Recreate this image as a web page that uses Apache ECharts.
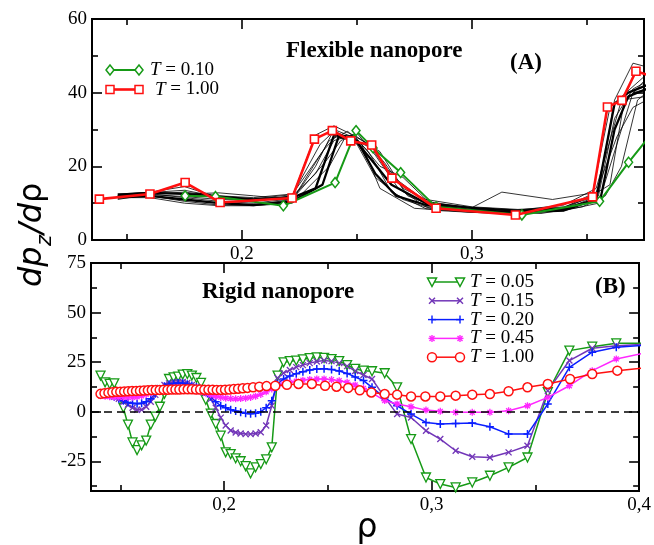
<!DOCTYPE html>
<html>
<head>
<meta charset="utf-8">
<script src="https://cdn.jsdelivr.net/npm/echarts@6/dist/echarts.min.js"></script>
<style>
  html, body { margin: 0; padding: 0; background: #fff; }
  #chart { width: 654px; height: 545px; }
</style>
</head>
<body>
<div id="chart"></div>
<script>
// ---------- Panel A: flexible nanopore, dp_z/dρ vs ρ ----------
const flexT010 = [[0.1753,12.0],[0.1885,11.8],[0.2180,9.3],[0.2405,15.6],[0.2496,29.7],[0.2570,25.0],
  [0.2690,18.3],[0.2844,9.0],[0.3217,6.8],[0.3555,10.5],[0.3681,21.1],[0.3780,28.8]];
const flexT100 = [[0.1380,11.1],[0.1600,12.5],[0.1753,15.6],[0.1905,10.2],[0.2218,11.4],[0.2315,27.4],
  [0.2393,29.7],[0.2473,26.9],[0.2564,25.8],[0.2652,16.8],[0.2844,8.6],[0.3189,6.8],[0.3524,11.7],
  [0.3589,36.1],[0.3652,37.9],[0.3713,45.8],[0.3780,44.5]];
// intermediate temperatures (black curves); first two drawn thick
const flexRuns = [
  [[0.146,12.3],[0.160,12.8],[0.175,12.5],[0.190,11.8],[0.205,11.0],[0.222,11.5],[0.232,14.0],[0.240,28.5],[0.248,28.0],[0.256,22.0],[0.265,15.0],[0.280,10.0],[0.300,8.7],[0.320,8.0],[0.340,8.5],[0.354,11.0],[0.362,37.0],[0.368,40.0],[0.376,42.0]],
  [[0.146,11.5],[0.160,12.0],[0.175,11.0],[0.190,10.0],[0.205,9.5],[0.222,10.5],[0.235,15.0],[0.242,28.0],[0.250,27.0],[0.258,18.0],[0.267,12.0],[0.280,9.5],[0.300,8.2],[0.320,7.5],[0.340,8.0],[0.356,11.5],[0.362,30.0],[0.368,39.0],[0.376,41.0]],
  [[0.146,12.0],[0.160,13.0],[0.175,14.5],[0.190,11.5],[0.205,10.5],[0.222,12.0],[0.232,28.5],[0.240,31.0],[0.250,28.0],[0.260,24.0],[0.270,14.0],[0.285,9.5],[0.300,8.8],[0.313,13.0],[0.335,11.0],[0.355,13.0],[0.362,38.0],[0.370,48.0],[0.376,47.0]],
  [[0.146,11.0],[0.160,12.5],[0.175,13.0],[0.190,12.0],[0.205,11.5],[0.222,12.5],[0.235,24.0],[0.242,29.0],[0.250,26.0],[0.258,17.0],[0.270,11.0],[0.285,8.0],[0.300,7.5],[0.320,7.0],[0.340,8.5],[0.352,12.0],[0.360,15.0],[0.366,37.0],[0.376,44.0]],
  [[0.146,12.0],[0.160,12.0],[0.175,10.5],[0.190,9.5],[0.205,9.5],[0.222,11.0],[0.238,27.0],[0.246,29.5],[0.255,24.0],[0.265,13.0],[0.280,8.5],[0.300,7.5],[0.320,7.3],[0.340,8.0],[0.355,10.0],[0.363,26.0],[0.370,40.0],[0.376,41.0]],
  [[0.150,12.5],[0.160,13.0],[0.175,12.5],[0.190,12.8],[0.205,12.0],[0.222,11.0],[0.232,20.0],[0.240,30.0],[0.250,27.5],[0.260,20.0],[0.270,17.0],[0.280,11.0],[0.300,9.0],[0.320,8.3],[0.340,9.0],[0.352,11.5],[0.360,36.0],[0.367,40.0],[0.376,45.0]],
  [[0.146,11.5],[0.160,11.5],[0.175,10.0],[0.190,9.3],[0.205,9.3],[0.222,10.0],[0.238,20.0],[0.245,28.0],[0.252,26.0],[0.260,14.0],[0.275,8.6],[0.290,8.0],[0.310,7.6],[0.330,7.2],[0.348,9.0],[0.358,12.0],[0.365,20.0],[0.372,38.0],[0.376,40.0]],
  [[0.146,12.0],[0.160,12.3],[0.175,11.8],[0.190,11.0],[0.205,10.8],[0.222,12.0],[0.232,18.0],[0.240,27.0],[0.248,28.5],[0.255,26.0],[0.262,21.0],[0.272,12.0],[0.285,8.8],[0.300,8.2],[0.320,8.1],[0.340,9.5],[0.354,14.0],[0.360,27.0],[0.365,38.0],[0.376,39.0]],
  [[0.146,11.8],[0.160,12.6],[0.175,11.5],[0.190,10.5],[0.205,10.0],[0.222,11.2],[0.236,21.0],[0.243,27.0],[0.250,29.0],[0.258,23.0],[0.268,14.0],[0.280,9.0],[0.300,7.8],[0.320,7.4],[0.340,8.3],[0.355,12.0],[0.362,33.0],[0.370,41.0],[0.376,43.0]],
  [[0.146,12.5],[0.160,12.9],[0.175,13.5],[0.190,11.7],[0.205,11.2],[0.222,12.3],[0.234,26.0],[0.240,29.5],[0.248,27.5],[0.256,25.0],[0.266,17.0],[0.280,10.5],[0.300,8.6],[0.320,7.9],[0.340,8.8],[0.354,13.0],[0.363,28.0],[0.370,36.0],[0.376,38.0]]
];

// ---------- Panel B: rigid nanopore ----------
const rhoRigid = [
  0.1405,0.1427,0.1449,0.1471,0.1493,0.1515,0.1537,0.1559,0.1581,0.1603,
  0.1625,0.1647,0.1669,0.1691,0.1713,0.1735,0.1757,0.1779,0.1801,0.1823,
  0.1845,0.1867,0.1889,0.1912,0.1936,0.1960,0.1984,0.2008,0.2032,0.2056,
  0.2080,0.2104,0.2128,0.2152,0.2177,0.2203,0.2230,0.2258,0.2287,0.2317,
  0.2348,0.2380,0.2413,0.2447,0.2482,0.2518,0.2555,0.2593,0.2632,0.2672,
  0.2713,0.2774,0.2834,0.2901,0.2973,0.3042,0.3116,0.3196,0.3281,0.3371,
  0.3462,0.3560,0.3664,0.3774,0.3890,0.4020];
const rigidT005 = [
  18.2,14.8,14.0,14.3,8.0,2.0,-6.5,-15.5,-19.4,-17.0,
  -14.6,-6.5,-2.5,2.5,9.0,16.5,17.3,17.7,18.7,19.0,
  18.2,17.0,14.5,6.0,-1.0,-6.2,-12.1,-20.5,-21.4,-23.5,
  -25.0,-27.5,-31.1,-28.1,-26.4,-24.0,-18.0,18.2,24.9,25.5,
  25.8,26.4,27.0,27.4,27.1,26.5,25.5,23.5,21.6,20.7,
  20.4,19.4,12.3,-13.8,-33.2,-36.5,-38.2,-35.7,-32.3,-28.1,
  -23.1,9.8,30.8,32.8,34.5,34.5];
const rigidT015 = [
  9.0,8.5,8.0,7.5,6.5,5.0,3.5,2.0,1.0,1.0,
  2.5,5.0,8.5,12.0,13.5,14.3,14.8,15.0,15.0,14.5,
  13.5,12.5,11.5,9.5,6.5,2.0,-3.0,-7.0,-9.5,-10.5,
  -11.0,-11.3,-11.3,-11.0,-10.4,-7.0,3.0,17.0,19.5,21.0,
  22.5,23.5,24.5,25.3,25.8,25.5,24.5,23.0,20.5,18.5,
  16.5,7.2,-1.2,-2.9,-9.6,-13.8,-19.7,-22.7,-23.1,-20.5,
  -17.2,10.6,25.8,32.0,33.3,34.0];
const rigidT020 = [
  9.0,8.8,8.2,7.5,6.5,5.5,4.7,4.2,4.0,4.2,
  5.0,6.5,9.0,11.5,12.8,13.8,14.2,14.5,14.3,13.8,
  13.2,12.5,11.5,10.0,7.5,5.0,3.0,2.0,1.0,0.3,
  -0.3,-0.8,-1.0,-0.8,0.0,2.0,5.5,14.0,16.5,18.0,
  19.2,20.2,21.0,21.5,21.6,21.3,20.5,19.3,17.5,15.7,
  12.3,7.0,3.0,-1.2,-5.4,-6.2,-5.9,-5.7,-7.6,-11.3,
  -11.3,3.9,22.4,30.0,32.5,33.5];
const rigidT045 = [
  8.0,7.8,7.6,7.4,7.3,7.2,7.2,7.3,7.5,8.0,
  8.7,9.5,10.3,11.0,11.5,11.8,12.0,12.0,11.8,11.5,
  11.0,10.5,10.0,9.3,8.5,7.8,7.2,6.8,6.6,6.5,
  6.6,6.8,7.2,7.8,8.7,10.0,11.5,13.0,14.0,14.8,
  15.4,15.9,16.3,16.5,16.5,16.2,15.6,14.8,13.5,11.8,
  9.5,5.6,3.9,2.5,0.8,0.2,-0.3,-0.3,-0.3,0.5,
  3.0,7.2,13.1,20.7,26.6,29.5];
const rhoRigidT100 = [
  0.1405,0.1424,0.1443,0.1462,0.1481,0.1500,0.1519,0.1538,0.1557,0.1576,
  0.1595,0.1614,0.1633,0.1652,0.1671,0.1690,0.1709,0.1728,0.1747,0.1766,
  0.1785,0.1805,0.1825,0.1845,0.1865,0.1885,0.1905,0.1925,0.1945,0.1965,
  0.1985,0.2005,0.2026,0.2047,0.2068,0.2090,0.2113,0.2140,0.2170,0.2205,
  0.2247,0.2303,0.2359,0.2423,0.2487,0.2542,0.2598,0.2654,0.2710,0.2774,
  0.2834,0.2901,0.2970,0.3042,0.3116,0.3196,0.3281,0.3371,0.3462,0.3560,
  0.3667,0.3774,0.3895,0.4020];
const rigidT100 = [
  9.0,9.3,9.6,9.8,10.0,10.1,10.2,10.3,10.4,10.5,
  10.6,10.7,10.8,10.9,10.9,11.0,11.1,11.1,11.2,11.2,
  11.2,11.3,11.3,11.3,11.2,11.2,11.1,11.1,11.1,11.0,
  11.0,11.1,11.2,11.4,11.6,11.8,12.0,12.3,12.6,12.9,
  13.1,13.6,14.0,14.0,13.1,12.6,12.0,10.8,9.7,8.9,
  8.6,7.7,7.7,7.7,8.1,8.6,8.9,10.3,12.3,14.0,
  16.5,19.0,20.7,22.0];

// ---------- axes ----------
const xTicksA = { major: [0.2, 0.3], minor: [0.15, 0.25, 0.35] };
const yTicksA = { major: [0, 20, 40, 60], minor: [10, 30, 50] };
const xTicksB = { major: [0.2, 0.3, 0.4], minor: [0.15, 0.25, 0.35] };
const yTicksB = { major: [-25, 0, 25, 50, 75], minor: [-37.5, -12.5, 12.5, 37.5, 62.5] };

const SERIF = '"Liberation Serif", "Times New Roman", serif';
const GREEN = '#169a16', RED = '#ff1010', PURPLE = '#7236b8', BLUE = '#0a1eff', MAGENTA = '#ff28ff';

const commaFmt = v => (+v).toFixed(1).replace('.', ',');

function axis(kind, grid, pos, min, max, ticks, len, labels) {
  return {
    type: 'value', gridIndex: grid, position: pos, min: min, max: max,
    axisLine: { show: true, onZero: false, lineStyle: { color: '#000', width: 2 } },
    axisTick: { show: true, inside: true, length: len, customValues: ticks,
                lineStyle: { color: '#000', width: 1.6 } },
    axisLabel: labels ? { show: true, customValues: labels, color: '#000',
                fontFamily: SERIF, fontSize: 19, margin: 5,
                formatter: kind === 'x' ? commaFmt : (v => String(v)) }
              : { show: false },
    splitLine: { show: false }
  };
}
function sideSet(kind, grid, sides, min, max, t) {
  return [
    axis(kind, grid, sides[0], min, max, t.major, 10, t.major),
    axis(kind, grid, sides[0], min, max, t.minor, 6, null),
    axis(kind, grid, sides[1], min, max, t.major, 10, null),
    axis(kind, grid, sides[1], min, max, t.minor, 6, null)
  ];
}

const xAxes = [].concat(
  sideSet('x', 0, ['bottom', 'top'], 0.1348, 0.3748, xTicksA),
  sideSet('x', 1, ['bottom', 'top'], 0.1359, 0.4, xTicksB));
const yAxes = [].concat(
  sideSet('y', 0, ['left', 'right'], 0, 60, yTicksA),
  sideSet('y', 1, ['left', 'right'], -40, 75, yTicksB));

// ---------- series ----------
const zip = (xs, ys) => xs.map((x, i) => [x, ys[i]]);
const PATH_X = 'path://M0,0L10,10M10,0L0,10';
const PATH_PLUS = 'path://M5,0L5,10M0,5L10,5';
const PATH_STAR = 'path://M5,0L5,10M0,5L10,5M1.5,1.5L8.5,8.5M8.5,1.5L1.5,8.5';

function lineSeries(o) {
  return Object.assign({
    type: 'line', animation: false, silent: true, emphasis: { disabled: true },
    showSymbol: true, symbol: 'none', clip: true, z: 2
  }, o);
}

const series = [];
flexRuns.forEach((run, i) => {
  series.push(lineSeries({
    xAxisIndex: 0, yAxisIndex: 0, data: run, symbol: 'none',
    lineStyle: { color: '#000', width: i < 2 ? 2.3 : 0.8 }
  }));
});
series.push(lineSeries({
  name: 'T = 0.10', xAxisIndex: 0, yAxisIndex: 0, data: flexT010,
  symbol: 'diamond', symbolSize: [8, 10],
  lineStyle: { color: GREEN, width: 2 },
  itemStyle: { color: '#fff', borderColor: GREEN, borderWidth: 1.5 }, z: 3
}));
series.push(lineSeries({
  name: 'T = 1.00', xAxisIndex: 0, yAxisIndex: 0, data: flexT100,
  symbol: 'rect', symbolSize: 8,
  lineStyle: { color: RED, width: 2.6 },
  itemStyle: { color: '#fff', borderColor: RED, borderWidth: 1.6 }, z: 4
}));

// rigid panel (xAxis 4, yAxis 4)
series.push(lineSeries({
  name: 'T = 0.05', xAxisIndex: 4, yAxisIndex: 4, data: zip(rhoRigid, rigidT005),
  symbol: 'triangle', symbolRotate: 180, symbolSize: 9,
  lineStyle: { color: GREEN, width: 1.5 },
  itemStyle: { color: '#fff', borderColor: GREEN, borderWidth: 1.3 },
  markLine: {
    silent: true, symbol: ['none', 'none'], label: { show: false },
    lineStyle: { color: '#000', type: [8, 5], width: 1.5 },
    data: [{ yAxis: 0 }]
  }
}));
series.push(lineSeries({
  name: 'T = 0.15', xAxisIndex: 4, yAxisIndex: 4, data: zip(rhoRigid, rigidT015),
  symbol: PATH_X, symbolSize: 6,
  lineStyle: { color: PURPLE, width: 1.5 },
  itemStyle: { color: 'transparent', borderColor: PURPLE, borderWidth: 1.3 }
}));
series.push(lineSeries({
  name: 'T = 0.20', xAxisIndex: 4, yAxisIndex: 4, data: zip(rhoRigid, rigidT020),
  symbol: PATH_PLUS, symbolSize: 8,
  lineStyle: { color: BLUE, width: 1.5 },
  itemStyle: { color: 'transparent', borderColor: BLUE, borderWidth: 1.5 }
}));
series.push(lineSeries({
  name: 'T = 0.45', xAxisIndex: 4, yAxisIndex: 4, data: zip(rhoRigid, rigidT045),
  symbol: PATH_STAR, symbolSize: 7,
  lineStyle: { color: MAGENTA, width: 1.5 },
  itemStyle: { color: 'transparent', borderColor: MAGENTA, borderWidth: 1.3 }
}));
series.push(lineSeries({
  name: 'T = 1.00 (rigid)', xAxisIndex: 4, yAxisIndex: 4, data: zip(rhoRigidT100, rigidT100),
  symbol: 'circle', symbolSize: 9,
  lineStyle: { color: RED, width: 1.5 },
  itemStyle: { color: '#fff', borderColor: RED, borderWidth: 1.5 }, z: 5
}));

// ---------- legend glyphs and annotations ----------
function glyph(kind, cx, cy, color) {
  const st = { fill: '#fff', stroke: color, lineWidth: 1.5 };
  const ln = (x1, y1, x2, y2) => ({ type: 'line', z: 20, shape: { x1, y1, x2, y2 },
    style: { stroke: color, lineWidth: 1.4 } });
  switch (kind) {
    case 'circle': return [{ type: 'circle', z: 20, shape: { cx, cy, r: 4.5 }, style: st }];
    case 'rect': return [{ type: 'rect', z: 20, shape: { x: cx - 4, y: cy - 4, width: 8, height: 8 }, style: st }];
    case 'diamond': return [{ type: 'polygon', z: 20, shape: { points: [[cx, cy - 5], [cx + 4, cy], [cx, cy + 5], [cx - 4, cy]] }, style: st }];
    case 'triDown': return [{ type: 'polygon', z: 20, shape: { points: [[cx - 4.5, cy - 4], [cx + 4.5, cy - 4], [cx, cy + 4.5]] }, style: st }];
    case 'x': return [ln(cx - 3, cy - 3, cx + 3, cy + 3), ln(cx + 3, cy - 3, cx - 3, cy + 3)];
    case 'plus': return [ln(cx, cy - 4, cx, cy + 4), ln(cx - 4, cy, cx + 4, cy)];
    case 'star': return [ln(cx, cy - 3.5, cx, cy + 3.5), ln(cx - 3.5, cy, cx + 3.5, cy),
                         ln(cx - 2.5, cy - 2.5, cx + 2.5, cy + 2.5), ln(cx + 2.5, cy - 2.5, cx - 2.5, cy + 2.5)];
  }
  return [];
}
function legendRow(x0, x1, y, kind, color, width, label, tx) {
  const els = [{ type: 'line', z: 19, shape: { x1: x0, y1: y, x2: x1, y2: y },
                 style: { stroke: color, lineWidth: width } }];
  glyph(kind, x0, y, color).forEach(e => els.push(e));
  glyph(kind, x1, y, color).forEach(e => els.push(e));
  els.push({ type: 'text', z: 20, x: tx, y: y, style: {
    text: '{t|T} = ' + label, fill: '#000', verticalAlign: 'middle',
    font: '19px ' + SERIF,
    rich: { t: { fontStyle: 'italic', fontFamily: SERIF, fontSize: 19 } } } });
  return els;
}
const legendA = [
  ['diamond', GREEN, 2, '0.10', 150],
  ['rect', RED, 2.6, '1.00', 155]
];
const legendB = [
  ['triDown', GREEN, '0.05'], ['x', PURPLE, '0.15'], ['plus', BLUE, '0.20'],
  ['star', MAGENTA, '0.45'], ['circle', RED, '1.00']
];

let graphics = [];
legendA.forEach((r, i) => { graphics = graphics.concat(legendRow(110, 139, 70 + i * 19.5, r[0], r[1], r[2], r[3], r[4])); });
legendB.forEach((r, i) => { graphics = graphics.concat(legendRow(432, 460, 282 + i * 18.8, r[0], r[1], 1.5, r[2], 470)); });

const boldText = (t, x, y) => ({ type: 'text', z: 20, x: x, y: y,
  style: { text: t, fill: '#000', font: 'bold 23px ' + SERIF, verticalAlign: 'middle' } });
graphics.push(boldText('Flexible nanopore', 286, 51));
graphics.push(boldText('(A)', 510, 63));
graphics.push(boldText('Rigid nanopore', 202, 292));
graphics.push(boldText('(B)', 595, 287));

// y-axis title dp_z/dρ, reading upward
const TITLE_FONT = '"DejaVu Sans", sans-serif';
graphics.push({
  type: 'group', x: 33, y: 235, rotation: Math.PI / 2, children: [
    { type: 'text', x: -52, y: 0, style: { text: 'dp', fill: '#000', font: 'italic 32px ' + TITLE_FONT, verticalAlign: 'middle' } },
    { type: 'text', x: -11, y: 13, style: { text: 'z', fill: '#000', font: 'italic 21px ' + TITLE_FONT, verticalAlign: 'middle' } },
    { type: 'text', x: 1, y: 0, style: { text: '/d', fill: '#000', font: 'italic 32px ' + TITLE_FONT, verticalAlign: 'middle' } },
    { type: 'text', x: 32, y: 0, style: { text: 'ρ', fill: '#000', font: '32px ' + TITLE_FONT, verticalAlign: 'middle' } }
  ]
});
// x-axis title
graphics.push({ type: 'text', z: 20, x: 367, y: 528,
  style: { text: 'ρ', fill: '#000', font: '33px ' + TITLE_FONT, align: 'center', verticalAlign: 'middle' } });

const chart = echarts.init(document.getElementById('chart'), null, { renderer: 'canvas' });
chart.setOption({
  backgroundColor: '#fff',
  animation: false,
  grid: [
    { left: 92, top: 19, width: 552, height: 221 },
    { left: 91, top: 263, width: 552, height: 228 }
  ],
  xAxis: xAxes,
  yAxis: yAxes,
  series: series,
  graphic: graphics
});
</script>
</body>
</html>
